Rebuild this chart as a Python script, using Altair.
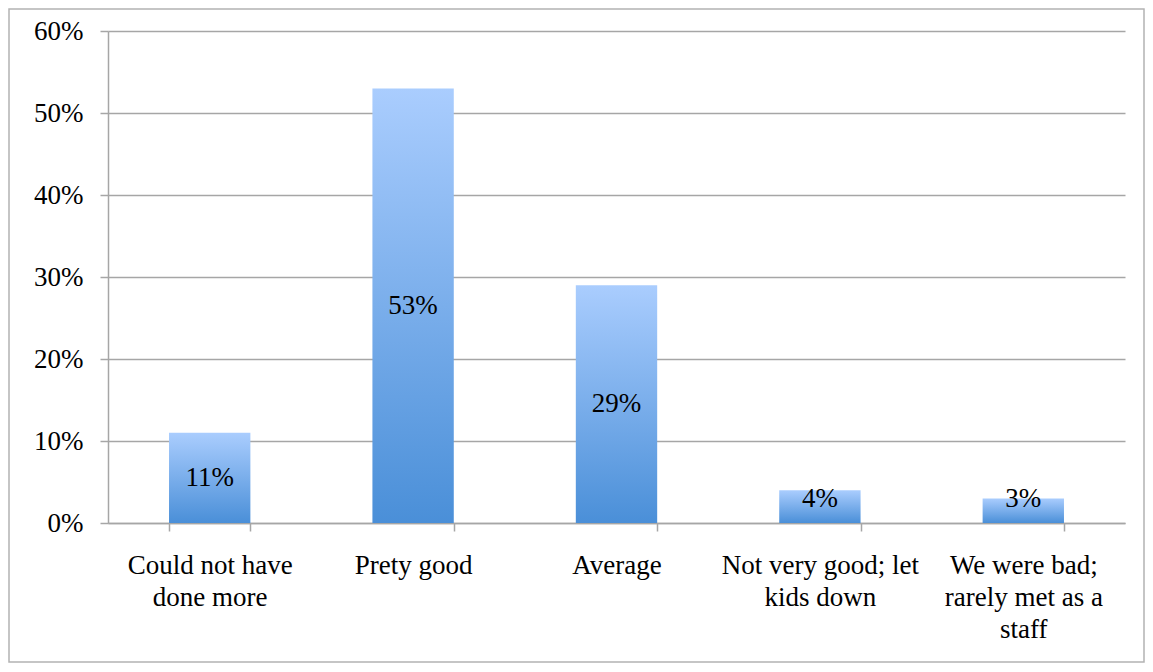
import altair as alt
import pandas as pd

categories = [
    "Could not have|done more",
    "Prety good",
    "Average",
    "Not very good; let|kids down",
    "We were bad;|rarely met as a|staff",
]
values = [0.11, 0.53, 0.29, 0.04, 0.03]
label_texts = ["11%", "53%", "29%", "4%", "3%"]

df = pd.DataFrame({"category": categories, "value": values, "label": label_texts})

FONT = "Liberation Serif"
GRID = "#a6a6a6"
W, H = 1017, 492

x_enc = alt.X(
    "category:N",
    sort=categories,
    scale=alt.Scale(paddingInner=0.6, paddingOuter=0.3),
    axis=alt.Axis(
        title=None,
        labelAngle=0,
        labelExpr="split(datum.label, '|')",
        labelLineHeight=32,
        labelPadding=21,
        labelLimit=0,
        tickBand="extent",
        tickSize=8,
        tickColor=GRID,
        tickWidth=1.5,
        domainColor=GRID,
        domainWidth=1.5,
        labelBaseline="top",
    ),
)

y_scale = alt.Scale(domain=[0, 0.6])

base = alt.Chart(df)

bars = base.mark_bar(
    color=alt.Gradient(
        gradient="linear",
        stops=[
            alt.GradientStop(color="#aacdfe", offset=0),
            alt.GradientStop(color="#4a8fd8", offset=1),
        ],
        x1=1, x2=1, y1=0, y2=1,
    )
).encode(
    x=x_enc,
    y=alt.Y(
        "value:Q",
        scale=y_scale,
        axis=alt.Axis(
            title=None,
            format=".0%",
            values=[0, 0.1, 0.2, 0.3, 0.4, 0.5, 0.6],
            grid=True,
            gridColor=GRID,
            gridWidth=1.5,
            tickSize=8,
            tickColor=GRID,
            tickWidth=1.5,
            domainColor=GRID,
            domainWidth=1.5,
            labelPadding=17,
        ),
    ),
)

texts = base.transform_calculate(
    labelpos="max(datum.value / 2, 0.029)"
).mark_text(font=FONT, fontSize=27, color="black", baseline="middle").encode(
    x=alt.X("category:N", sort=categories),
    y=alt.Y("labelpos:Q", scale=y_scale),
    text="label:N",
)

frame = alt.Chart(pd.DataFrame({"a": [0]})).mark_rect(
    filled=False, stroke="#b3b3b3", strokeWidth=1.5
).encode(
    x=alt.value(-99), x2=alt.value(1036), y=alt.value(-22), y2=alt.value(631)
)

chart = alt.layer(frame, bars, texts).properties(
    width=W,
    height=H,
    autosize=alt.AutoSizeParams(type="none"),
    padding={"left": 100, "top": 23, "right": 20, "bottom": 141},
).configure_axis(
    labelFont=FONT, labelFontSize=27, labelColor="black"
).configure_view(stroke=None)

chart.save("out.html", embed_options={"renderer": "svg", "actions": False})
